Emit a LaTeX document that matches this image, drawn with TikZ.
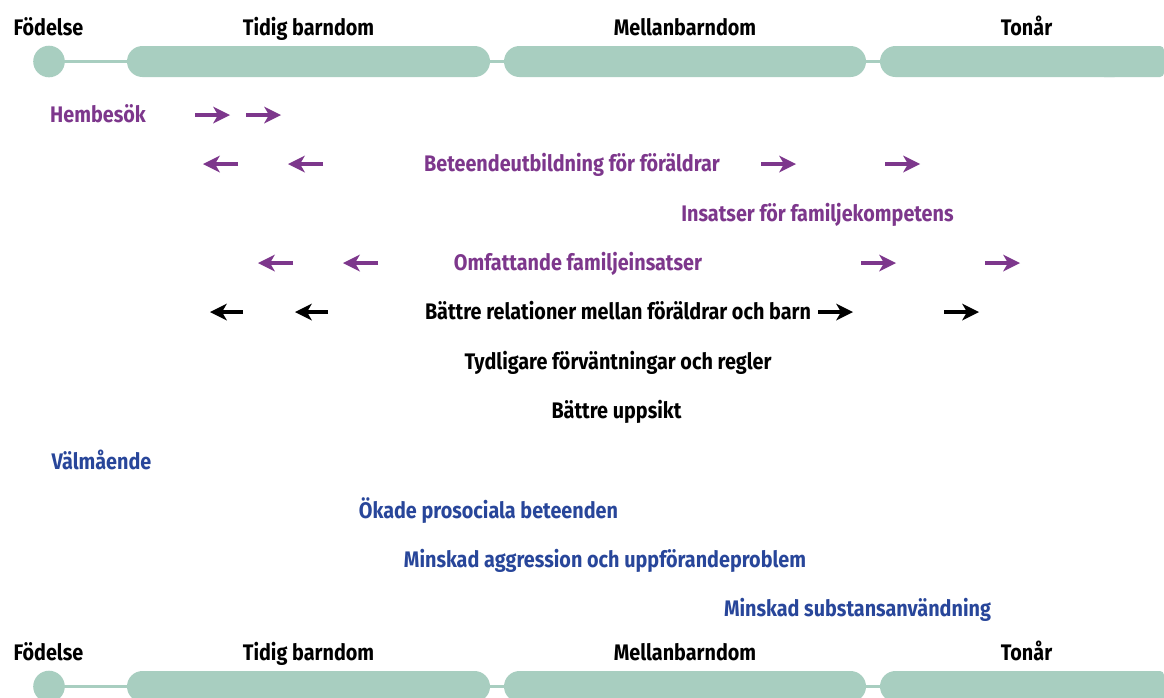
\documentclass[tikz,border=0pt]{standalone}
\usepackage{fontspec}
\setmainfont{Fira Sans}[FakeStretch=0.88]
\definecolor{barg}{HTML}{A8CEC0}
\definecolor{purp}{HTML}{7D378C}
\definecolor{blu}{HTML}{28469A}
\tikzset{
  lbl/.style={font=\fontsize{22.5}{26}\selectfont\bfseries, inner sep=0pt, anchor=base, yshift=-7.8pt},
  plbl/.style={lbl, text=purp},
  blbl/.style={lbl, text=blu},
  klbl/.style={lbl, text=black},
  shaft/.style={line width=3.4pt, shorten >=10pt},
}
% #1 colour, #2 start coordinate, #3 tip coordinate, #4 direction (1 right, -1 left)
\newcommand{\harrow}[4]{%
  \draw[shaft, draw=#1] (#2) -- (#3);
  \begin{scope}[shift={(#3)}, xscale=#4]
    \fill[#1] (1,0) -- (-16,-8.5) -- (-11,0) -- (-16,8.5) -- cycle;
  \end{scope}}
\newcommand{\timeline}[1]{%
  \begin{scope}[yshift=#1]
    \draw[barg, line width=3pt] (49,61.5) -- (1160,61.5);
    \fill[barg] (49,61.5) circle (15.8);
    \fill[barg, rounded corners=15.5] (127,46) rectangle (490,77);
    \fill[barg, rounded corners=15.5] (504,46) rectangle (866,77);
    \fill[barg, rounded corners=15.5] (880,46) rectangle (1130,77);
    \fill[barg, rounded corners=4] (1100,46) rectangle (1164,77);
  \end{scope}}
\begin{document}
\begin{tikzpicture}[x=1pt,y=-1pt]
\useasboundingbox (0,0) rectangle (1164,697);
\clip (0,0) rectangle (1164,697);
\fill[white] (0,0) rectangle (1164,697);
% timelines
\timeline{0pt}
\timeline{-625pt}
\node[klbl] (fod1) at (48.5,28) {Födelse};
\node[klbl] (tid1) at (308.5,28) {Tidig barndom};
\node[klbl] (mel1) at (685,28) {Mellanbarndom};
\node[klbl] (ton1) at (1026.5,28) {Tonår};
\node[klbl] (fod2) at (48.5,653) {Födelse};
\node[klbl] (tid2) at (308.5,653) {Tidig barndom};
\node[klbl] (mel2) at (685,653) {Mellanbarndom};
\node[klbl] (ton2) at (1026.5,653) {Tonår};
% rows
\node[plbl] (hem) at (98,115) {Hembesök};
\node[plbl] (bet) at (572,164) {Beteendeutbildning för föräldrar};
\node[plbl] (ins) at (817.5,214) {Insatser för familjekompetens};
\node[plbl] (omf) at (578,263) {Omfattande familjeinsatser};
\node[klbl] (rel) at (618,312) {Bättre relationer mellan föräldrar och barn};
\node[klbl] (tyd) at (618,362) {Tydligare förväntningar och regler};
\node[klbl] (upp) at (616.5,411) {Bättre uppsikt};
\node[blbl] (val) at (101.5,462) {Välmående};
\node[blbl] (oka) at (488.5,511) {Ökade prosociala beteenden};
\node[blbl] (agg) at (605,560) {Minskad aggression och uppförandeproblem};
\node[blbl] (sub) at (857.5,609) {Minskad substansanvändning};
% arrow coordinates
\coordinate (h1a) at (195,115); \coordinate (h1b) at (229,115);
\coordinate (h2a) at (246,115); \coordinate (h2b) at (280,115);
\coordinate (b1a) at (238,164); \coordinate (b1b) at (204,164);
\coordinate (b2a) at (323,164); \coordinate (b2b) at (289,164);
\coordinate (b3a) at (761,164); \coordinate (b3b) at (795,164);
\coordinate (b4a) at (885,164); \coordinate (b4b) at (919,164);
\coordinate (o1a) at (293,263); \coordinate (o1b) at (259,263);
\coordinate (o2a) at (378,263); \coordinate (o2b) at (344,263);
\coordinate (o3a) at (861,263); \coordinate (o3b) at (895,263);
\coordinate (o4a) at (985,263); \coordinate (o4b) at (1019,263);
\coordinate (r1a) at (243,312); \coordinate (r1b) at (211,312);
\coordinate (r2a) at (328,312); \coordinate (r2b) at (296,312);
\coordinate (r3a) at (818,312); \coordinate (r3b) at (852,312);
\coordinate (r4a) at (944,312); \coordinate (r4b) at (978,312);
\harrow{purp}{h1a}{h1b}{1}
\harrow{purp}{h2a}{h2b}{1}
\harrow{purp}{b1a}{b1b}{-1}
\harrow{purp}{b2a}{b2b}{-1}
\harrow{purp}{b3a}{b3b}{1}
\harrow{purp}{b4a}{b4b}{1}
\harrow{purp}{o1a}{o1b}{-1}
\harrow{purp}{o2a}{o2b}{-1}
\harrow{purp}{o3a}{o3b}{1}
\harrow{purp}{o4a}{o4b}{1}
\harrow{black}{r1a}{r1b}{-1}
\harrow{black}{r2a}{r2b}{-1}
\harrow{black}{r3a}{r3b}{1}
\harrow{black}{r4a}{r4b}{1}
\end{tikzpicture}
\end{document}
